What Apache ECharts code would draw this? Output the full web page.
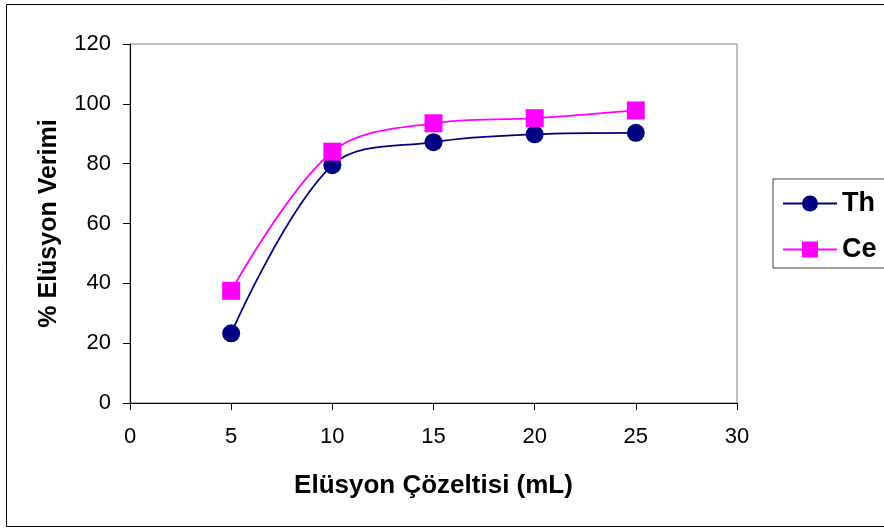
<!DOCTYPE html>
<html><head><meta charset="utf-8">
<script src="https://cdn.jsdelivr.net/npm/echarts@6/dist/echarts.min.js"></script>
<style>html,body{margin:0;padding:0;background:#fff}#c{width:884px;height:530px}</style>
</head><body><div id="c"></div>
<script>
var xValues = [5, 10, 15, 20, 25];
var thValues = [23.3, 79.5, 87.2, 89.8, 90.3];
var ceValues = [37.5, 84, 93.5, 95.2, 97.8];
var xTicks = [0, 5, 10, 15, 20, 25, 30];
var yTicks = [0, 20, 40, 60, 80, 100, 120];

function pairs(xs, ys){ return xs.map(function(x,i){ return [x, ys[i]]; }); }
var FONT = 'Liberation Sans, Arial';
var chart = echarts.init(document.getElementById('c'));
chart.setOption({
  animation: false,
  backgroundColor: '#fff',
  graphic: [{type:'rect', shape:{x:6.5,y:4.5,width:900,height:522}, style:{fill:'none', stroke:'#000', lineWidth:1}, z:0}],
  grid: {left:130, top:44, right:147, bottom:127, show:true, borderColor:'#808080', borderWidth:1},
  legend: {
    orient:'vertical', left:773, top:179, padding:[11,20,5,9], itemGap:19,
    borderColor:'#404040', borderWidth:1, itemWidth:54, itemHeight:20,
    textStyle:{fontFamily:FONT, fontWeight:'bold', fontSize:27, color:'#000'},
    data:['Th','Ce']
  },
  xAxis: {
    type:'value', min:0, max:30, interval:5,
    name:'Elüsyon Çözeltisi (mL)', nameLocation:'middle', nameGap:70,
    nameTextStyle:{fontFamily:FONT, fontWeight:'bold', fontSize:26, color:'#000'},
    axisLine:{show:true, lineStyle:{color:'#000', width:1}},
    axisTick:{show:true, length:7, lineStyle:{color:'#000'}},
    axisLabel:{fontFamily:FONT, fontSize:22, color:'#000', margin:23,
      formatter:function(v){ return xTicks.indexOf(v)>=0 ? String(v) : ''; }},
    splitLine:{show:false}
  },
  yAxis: {
    type:'value', min:0, max:120, interval:20,
    name:'% Elüsyon Verimi', nameLocation:'middle', nameGap:68,
    nameTextStyle:{fontFamily:FONT, fontWeight:'bold', fontSize:25, color:'#000'},
    axisLine:{show:true, lineStyle:{color:'#000', width:1}},
    axisTick:{show:true, length:7, lineStyle:{color:'#000'}},
    axisLabel:{fontFamily:FONT, fontSize:22, color:'#000', margin:19,
      formatter:function(v){ return yTicks.indexOf(v)>=0 ? String(v) : ''; }},
    splitLine:{show:false}
  },
  series: [
    {name:'Th', type:'line', data:pairs(xValues, thValues), smooth:0.35,
     symbol:'circle', symbolSize:18, lineStyle:{color:'#000080', width:1.8},
     itemStyle:{color:'#000080'}},
    {name:'Ce', type:'line', data:pairs(xValues, ceValues), smooth:0.35,
     symbol:'rect', symbolSize:18, lineStyle:{color:'#FF00FF', width:1.8},
     itemStyle:{color:'#FF00FF'}}
  ]
});
</script></body></html>
